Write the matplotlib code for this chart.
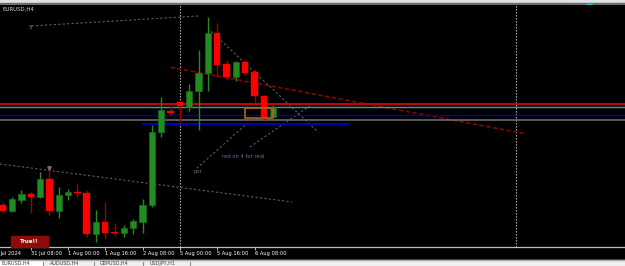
import matplotlib
matplotlib.use("Agg")
import matplotlib.pyplot as plt
from matplotlib.patches import Rectangle, Polygon
import numpy as np

# EURUSD H4 candles, bar 0 = 30 Jul 20:00
opens  = [1.07840, 1.07772, 1.07908, 1.07980, 1.07936, 1.08160, 1.07772, 1.07960,
          1.07996, 1.07984, 1.07492, 1.07640, 1.07524, 1.07512, 1.07572, 1.07644,
          1.07844, 1.08714, 1.08972, 1.09074, 1.09024, 1.09212, 1.09428, 1.09912,
          1.09532, 1.09376, 1.09564, 1.09440, 1.09156, 1.08896]
highs  = [1.07880, 1.07940, 1.08024, 1.08000, 1.08240, 1.08272, 1.08064, 1.08032,
          1.08096, 1.08024, 1.07780, 1.07884, 1.07632, 1.07604, 1.07672, 1.07912,
          1.08804, 1.09140, 1.09026, 1.09080, 1.09296, 1.09704, 1.10104, 1.10032,
          1.09584, 1.09576, 1.09572, 1.09476, 1.09164, 1.09044]
lows   = [1.07748, 1.07760, 1.07864, 1.07752, 1.07928, 1.07720, 1.07692, 1.07904,
          1.07944, 1.07456, 1.07400, 1.07440, 1.07472, 1.07464, 1.07496, 1.07512,
          1.07820, 1.08656, 1.08918, 1.08840, 1.08972, 1.08744, 1.09216, 1.09384,
          1.09344, 1.09332, 1.09404, 1.09064, 1.08864, 1.08896]
closes = [1.07772, 1.07912, 1.07980, 1.07944, 1.08160, 1.07772, 1.07964, 1.08004,
          1.07984, 1.07492, 1.07640, 1.07512, 1.07512, 1.07572, 1.07652, 1.07844,
          1.08724, 1.08978, 1.08944, 1.09032, 1.09216, 1.09432, 1.09904, 1.09524,
          1.09376, 1.09564, 1.09432, 1.09156, 1.08896, 1.09016]

tick_bars = [-0.24, 3, 7, 11, 15, 19, 23, 27]
tick_labels = ["Jul 2024", "31 Jul 08:00", "1 Aug 00:00", "1 Aug 16:00",
               "2 Aug 08:00", "5 Aug 00:00", "5 Aug 16:00", "6 Aug 08:00"]

tabs = ["EURUSD,H4", "AUDUSD,H4", "GBPUSD,H4", "USDJPY,H1"]

# horizontal levels (price, colour, width)
levels = [(1.09052, "#c80000", 1.5), (1.09016, "#2aa4aa", 1.0),
          (1.08920, "#0000a8", 1.0), (1.08860, "#6a6a6a", 1.2)]
# short blue level: start bar, end bar, price
short_level = (15.0, 37.0, 1.08812)
# rectangle: bar0, bar1, price low, price high
box = (25.95, 28.95, 1.08884, 1.09012)
# trend lines: (bar0, price0, bar1, price1)
gray_lines = [(3.1, 1.09992, 21.0, 1.10112),
              (22.0, 1.09964, 33.8, 1.08720),
              (20.8, 1.08284, 26.0, 1.08804),
              (26.5, 1.08540, 32.9, 1.09032),
              (-0.3, 1.08336, 31.0, 1.07880)]
red_trend = (18.0, 1.09496, 55.8, 1.08704)
separators = [19, 55]

fig = plt.figure(figsize=(6.25, 2.66), dpi=100, facecolor="black")

# window frame (pixel coordinates)
bg = fig.add_axes([0, 0, 1, 1])
bg.set_xlim(0, 625)
bg.set_ylim(266, 0)
bg.axis("off")
bg.add_patch(Rectangle((0, 0), 625, 2.8, color="#e2e2e2"))
bg.add_patch(Rectangle((0, 2.8), 625, 2.5, color="#6c6c6c"))
bg.add_patch(Rectangle((0, 259.8), 625, 6.2, color="#efefef"))
bg.plot([0, 625], [259.8, 259.8], color="#a8a8a8", lw=1)
bg.add_patch(Rectangle((0, 260.8), 42.7, 5.2, color="white"))
for sx in [42.7, 94.3, 143.3, 190]:
    bg.plot([sx, sx], [261.5, 266], color="#909090", lw=0.8)
for tx, name in zip([1.5, 50, 100, 149.5], tabs):
    bg.text(tx, 263.4, name, fontsize=3.5, color="#404040", va="center", ha="left")
bg.add_patch(Polygon([[586.5, 4.6], [592.5, 4.6], [589.5, 7.6]], closed=True, color="#33c6dc"))

ax = fig.add_axes([0, 18.7 / 266, 1, 242 / 266])
ax.set_facecolor("black")
ax.set_xlim(-0.289, 66.7)
ax.set_ylim(1.073364, 1.10240)
for s in ["top", "left", "right"]:
    ax.spines[s].set_visible(False)
ax.spines["bottom"].set_color("#bdbdbd")
ax.spines["bottom"].set_linewidth(0.9)
ax.set_yticks([])
ax.set_xticks(tick_bars[1:])
ax.set_xticklabels([])
ax.tick_params(axis="x", direction="out", length=2.5, width=0.7, color="#bdbdbd")
for b, lab in zip(tick_bars, tick_labels):
    ax.text(b, -0.026, lab, transform=ax.get_xaxis_transform(), fontsize=3.7,
            color="white", ha="left", va="center", clip_on=False)

# levels
for price, col, lw in levels:
    ax.axhline(price, color=col, lw=lw, zorder=2)
ax.plot(short_level[:2], [short_level[2]] * 2, color="#0000d8", lw=1.2, zorder=2)

for sx in separators:
    ax.axvline(sx, color="#c8c8c8", lw=0.8, ls=(0, (1.2, 1.5)), zorder=1)

for x0, y0, x1, y1 in gray_lines:
    ax.plot([x0, x1], [y0, y1], color="#5e5e5e", lw=0.8, ls=(0, (2, 2)), zorder=1)
ax.plot(red_trend[0::2], red_trend[1::2], color="#8f0000", lw=1.2, ls=(0, (2.5, 1.6)), zorder=1)

# candles
x = np.arange(len(opens))
o = np.array(opens); c = np.array(closes)
up = c >= o
wick_cols = np.where(up, "#228b22", "#a00000")
ax.vlines(x, lows, highs, colors=wick_cols, lw=1, zorder=3)
body_h = np.maximum(np.abs(c - o), 0.00013)
ax.bar(x[up], body_h[up], bottom=np.minimum(o, c)[up], width=0.68,
       color="#228b22", edgecolor="#1b6e1b", lw=0.5, zorder=4)
ax.bar(x[~up], body_h[~up], bottom=np.minimum(o, c)[~up], width=0.68,
       color="#ff0000", edgecolor="#ff0000", lw=0.3, zorder=4)

ax.add_patch(Rectangle((box[0], box[2]), box[1] - box[0], box[3] - box[2],
                       fill=False, edgecolor="#b0641e", lw=1.2, zorder=5))

ax.plot([5], [1.0829], marker="v", ms=2.5, color="#707070", zorder=5)

# labels
ax.text(0.0, 1.10196, "EURUSD,H4", fontsize=3.9, color="#d8d8d8", ha="left", va="center")
ax.text(2.8, 1.09968, "5", fontsize=4, color="#8a8a8a", ha="left", va="center")
ax.text(20.4, 1.08240, "por", fontsize=3.8, color="#6c6c8c", ha="left", va="center")
ax.text(23.5, 1.08420, "red on 4 for real", fontsize=3.8, color="#6c6c8c", ha="left", va="center")

# "True!!" button on an overlay in pixel coordinates
ov = fig.add_axes([0, 0, 1, 1], zorder=10)
ov.set_xlim(0, 625)
ov.set_ylim(266, 0)
ov.axis("off")
ov.patch.set_alpha(0)
ov.add_patch(Rectangle((11, 236), 36.7, 11, color="#8e0b0b"))
ov.text(29.3, 241.6, "True!!", fontsize=4, color="white", fontweight="bold",
        ha="center", va="center")

fig.savefig("out.png", dpi=100, facecolor="black")
